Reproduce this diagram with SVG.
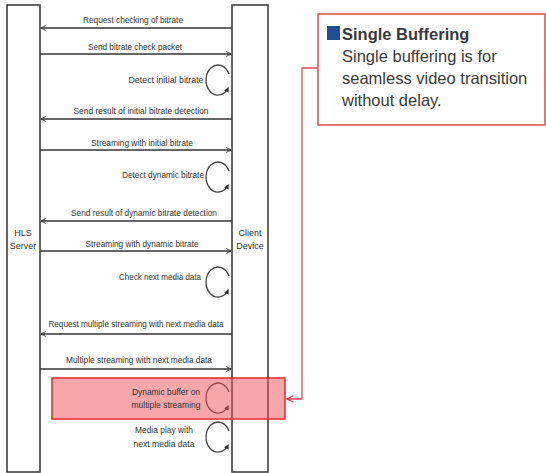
<svg xmlns="http://www.w3.org/2000/svg" width="546" height="473" viewBox="0 0 546 473">
<defs>
<marker id="ah" viewBox="0 0 10 10" refX="9" refY="5" markerWidth="6" markerHeight="6" orient="auto-start-reverse" markerUnits="userSpaceOnUse">
<path d="M1,1 L9,5 L1,9" fill="none" stroke="#333" stroke-width="1.6"/>
</marker>
<marker id="lh" viewBox="0 0 10 10" refX="8" refY="5" markerWidth="5" markerHeight="5" orient="auto" markerUnits="userSpaceOnUse">
<path d="M0,0 L10,5 L0,10 z" fill="#333"/>
</marker>
<marker id="rh" viewBox="0 0 10 10" refX="9" refY="5" markerWidth="8" markerHeight="8" orient="auto" markerUnits="userSpaceOnUse">
<path d="M1,1 L9,5 L1,9" fill="none" stroke="#e03035" stroke-width="1.5"/>
</marker>
<style>
.life{fill:#fff;stroke:#333;stroke-width:1.5}
.msg{stroke:#333;stroke-width:1.5;fill:none}
.loop{stroke:#444;stroke-width:1.3;fill:none;marker-end:url(#lh)}
.t{font-family:"Liberation Sans",Arial,sans-serif;font-size:9px;fill:#333;text-anchor:middle}
.c{font-family:"Liberation Sans",Arial,sans-serif;font-size:16.5px;fill:#3a3a3a}
</style>
</defs>
<g id="hls-server">
<rect class="life" x="7" y="5" width="33" height="467"/>
<text class="t" x="23" y="236">HLS</text>
<text class="t" x="23" y="249">Server</text>
</g>
<g id="client-device">
<rect class="life" x="232" y="5" width="36" height="467"/>
<text class="t" x="250" y="236">Client</text>
<text class="t" x="250" y="249">Device</text>
</g>
<g id="connectors">
<line class="msg" x1="232" y1="28" x2="41" y2="28" marker-end="url(#ah)"/>
<line class="msg" x1="40" y1="54" x2="231" y2="54" marker-end="url(#ah)"/>
<line class="msg" x1="232" y1="119" x2="41" y2="119" marker-end="url(#ah)"/>
<line class="msg" x1="40" y1="150" x2="231" y2="150" marker-end="url(#ah)"/>
<line class="msg" x1="232" y1="221" x2="41" y2="221" marker-end="url(#ah)"/>
<line class="msg" x1="40" y1="251" x2="231" y2="251" marker-end="url(#ah)"/>
<line class="msg" x1="232" y1="334" x2="41" y2="334" marker-end="url(#ah)"/>
<line class="msg" x1="40" y1="369" x2="231" y2="369" marker-end="url(#ah)" stroke-width="2"/>
<path class="loop" d="M229,74 A12,15 0 1 0 228.2,88"/>
<path class="loop" d="M229,171 A12,15 0 1 0 228.2,185"/>
<path class="loop" d="M229,276 A12,15 0 1 0 228.2,290"/>
<path class="loop" d="M229,392 A12,15 0 1 0 228.2,406"/>
<path class="loop" d="M229,431 A12,15 0 1 0 228.2,445"/>
</g>
<g id="messages">
<text class="t" x="133" y="23" textLength="100" lengthAdjust="spacingAndGlyphs">Request checking of bitrate</text>
<text class="t" x="135" y="50" textLength="94" lengthAdjust="spacingAndGlyphs">Send bitrate check packet</text>
<text class="t" x="166" y="83" textLength="75" lengthAdjust="spacingAndGlyphs">Detect initial bitrate</text>
<text class="t" x="141" y="114" textLength="135" lengthAdjust="spacingAndGlyphs">Send result of initial bitrate detection</text>
<text class="t" x="142" y="146" textLength="102" lengthAdjust="spacingAndGlyphs">Streaming with initial bitrate</text>
<text class="t" x="163" y="178" textLength="82" lengthAdjust="spacingAndGlyphs">Detect dynamic bitrate</text>
<text class="t" x="144" y="216" textLength="146" lengthAdjust="spacingAndGlyphs">Send result of dynamic bitrate detection</text>
<text class="t" x="142" y="247" textLength="113" lengthAdjust="spacingAndGlyphs">Streaming with dynamic bitrate</text>
<text class="t" x="160" y="280" textLength="82" lengthAdjust="spacingAndGlyphs">Check next media data</text>
<text class="t" x="136" y="327" textLength="175" lengthAdjust="spacingAndGlyphs">Request multiple streaming with next media data</text>
<text class="t" x="139" y="363" textLength="146" lengthAdjust="spacingAndGlyphs">Multiple streaming with next media data</text>
</g>
<g id="dynamic-buffer">
<rect x="52" y="378" width="233" height="41" fill="#f04f55" fill-opacity="0.5" stroke="#e02a2f" stroke-width="1.5"/>
<text class="t" x="166" y="395" textLength="68" lengthAdjust="spacingAndGlyphs">Dynamic buffer on</text>
<text class="t" x="166" y="408" textLength="69" lengthAdjust="spacingAndGlyphs">multiple streaming</text>
</g>
<g id="media-play">
<text class="t" x="164" y="433" textLength="58" lengthAdjust="spacingAndGlyphs">Media play with</text>
<text class="t" x="164" y="447" textLength="61" lengthAdjust="spacingAndGlyphs">next media data</text>
</g>
<g id="single-buffering">
<rect x="318" y="14" width="227" height="111" fill="#fff" stroke="#e04a50" stroke-width="1.5"/>
<rect x="327" y="26" width="13" height="14" fill="#1f4e96"/>
<text class="c" x="342" y="40" font-weight="bold">Single Buffering</text>
<text class="c" x="342" y="62">Single buffering is for</text>
<text class="c" x="342" y="84">seamless video transition</text>
<text class="c" x="342" y="106">without delay.</text>
</g>
<g id="callout-connector">
<path d="M318,68 H302 V399 H287" fill="none" stroke="#e04a50" stroke-width="1.3" marker-end="url(#rh)"/>
</g>
</svg>
